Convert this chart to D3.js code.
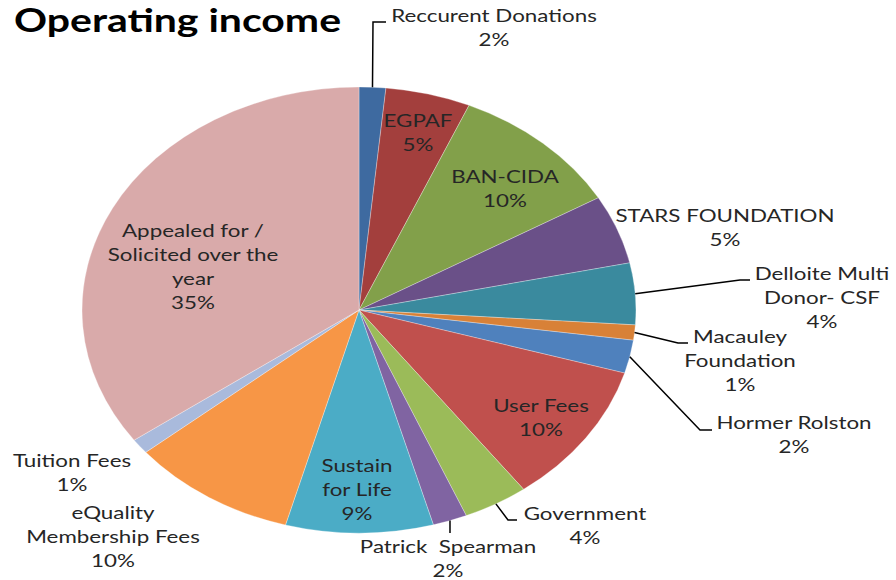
<!DOCTYPE html>
<html>
<head>
<meta charset="utf-8">
<script src="https://cdn.jsdelivr.net/npm/d3@7"></script>
<style>
  body { margin: 0; background: #fff; }
  svg { display: block; }
  text { font-family: Lato, "Open Sans", sans-serif; fill: #262626; white-space: pre; }
</style>
</head>
<body>
<script>
// parts du revenu, dans le sens horaire depuis le haut
const categories = [
  "Reccurent Donations", "EGPAF", "BAN-CIDA", "STARS FOUNDATION",
  "Delloite Multi\nDonor- CSF", "Macauley\nFoundation", "Hormer Rolston",
  "User Fees", "Government", "Patrick  Spearman", "Sustain\nfor Life",
  "eQuality\nMembership Fees", "Tuition Fees", "Appealed for /\nSolicited over the\nyear"
]
const values = [1.55, 4.95, 10.1, 5.0, 4.45, 1.1, 2.4, 10.3, 3.8, 2.0, 8.6, 9.7, 1.1, 34.9]
const colors = [
  "#3e6aa0", "#a33f3d", "#82a04a", "#6a5088", "#3a8a9e", "#d88137", "#4f81bd",
  "#c0504d", "#9bbb59", "#8064a2", "#4bacc6", "#f79646", "#a9badc", "#d9aaaa"
]

// place des étiquettes (centre x, première ligne y) et lignes de rappel
const labelPos = [
  [494, 22], [418, 127], [505, 183], [725, 222], [822, 280], [740, 343], [794, 429],
  [541, 412], [585, 520], [448, 553], [357, 472], [113, 519], [72, 467], [193, 237]
]
// coude de la ligne de rappel [x, y, x de fin] ou null
const leaders = [
  [373, 22, 386], null, null, null, [740, 280, 750], [678, 343, 688], [700, 430, 712],
  null, [508, 520, 517], [450, 533, 450], null, null, null, null
]

const W = 896, H = 580
const cx = 359, cy = 310, r = 223, sx = 1.242 // l'image d'origine est étirée en largeur
const lineH = 24

const svg = d3.select("body").append("svg")
  .attr("width", W)
  .attr("height", H)

// titre
svg.append("text")
  .attr("transform", "translate(14,32) scale(" + sx + ",1)")
  .style("font-size", "33px")
  .style("font-weight", "bold")
  .style("fill", "#000")
  .text("Operating income")

const pie = d3.pie().sort(null).value(d => d)
const arcs = pie(values)
const arc = d3.arc().innerRadius(0).outerRadius(r)

/* PARTS ------------------------------------------------------------------ */
svg.append("g")
  .attr("transform", "translate(" + cx + "," + cy + ") scale(" + sx + ",1)")
  .selectAll("path")
  .data(arcs)
  .join("path")
  .attr("d", arc)
  .attr("fill", (d, i) => colors[i])
  .attr("stroke", "#fff")
  .attr("stroke-opacity", 0.5)
  .attr("stroke-width", 0.6)
  .attr("vector-effect", "non-scaling-stroke")

/* LIGNES DE RAPPEL ---------------------------------------------------------- */
const fmt = d3.format(".0%")
const total = d3.sum(values)

arcs.forEach((a, i) => {
  const l = leaders[i]
  if (!l) return
  const mid = (a.startAngle + a.endAngle) / 2
  const x0 = cx + r * sx * Math.sin(mid)
  const y0 = cy - r * Math.cos(mid)
  svg.append("polyline")
    .attr("points", [[x0, y0], [l[0], l[1]], [l[2], l[1]]].map(p => p.join(",")).join(" "))
    .attr("fill", "none")
    .attr("stroke", "#000")
    .attr("stroke-width", 1.5)
})

/* ETIQUETTES ---------------------------------------------------------------- */
arcs.forEach((a, i) => {
  const lines = categories[i].split("\n").concat([fmt(values[i] / total)])
  const t = svg.append("text")
    .attr("transform", "translate(" + labelPos[i][0] + "," + labelPos[i][1] + ") scale(" + sx + ",1)")
    .attr("text-anchor", "middle")
    .style("font-size", "18px")
  lines.forEach((s, k) => {
    t.append("tspan")
      .attr("x", 0)
      .attr("y", k * lineH)
      .text(s)
  })
})
</script>
</body>
</html>
